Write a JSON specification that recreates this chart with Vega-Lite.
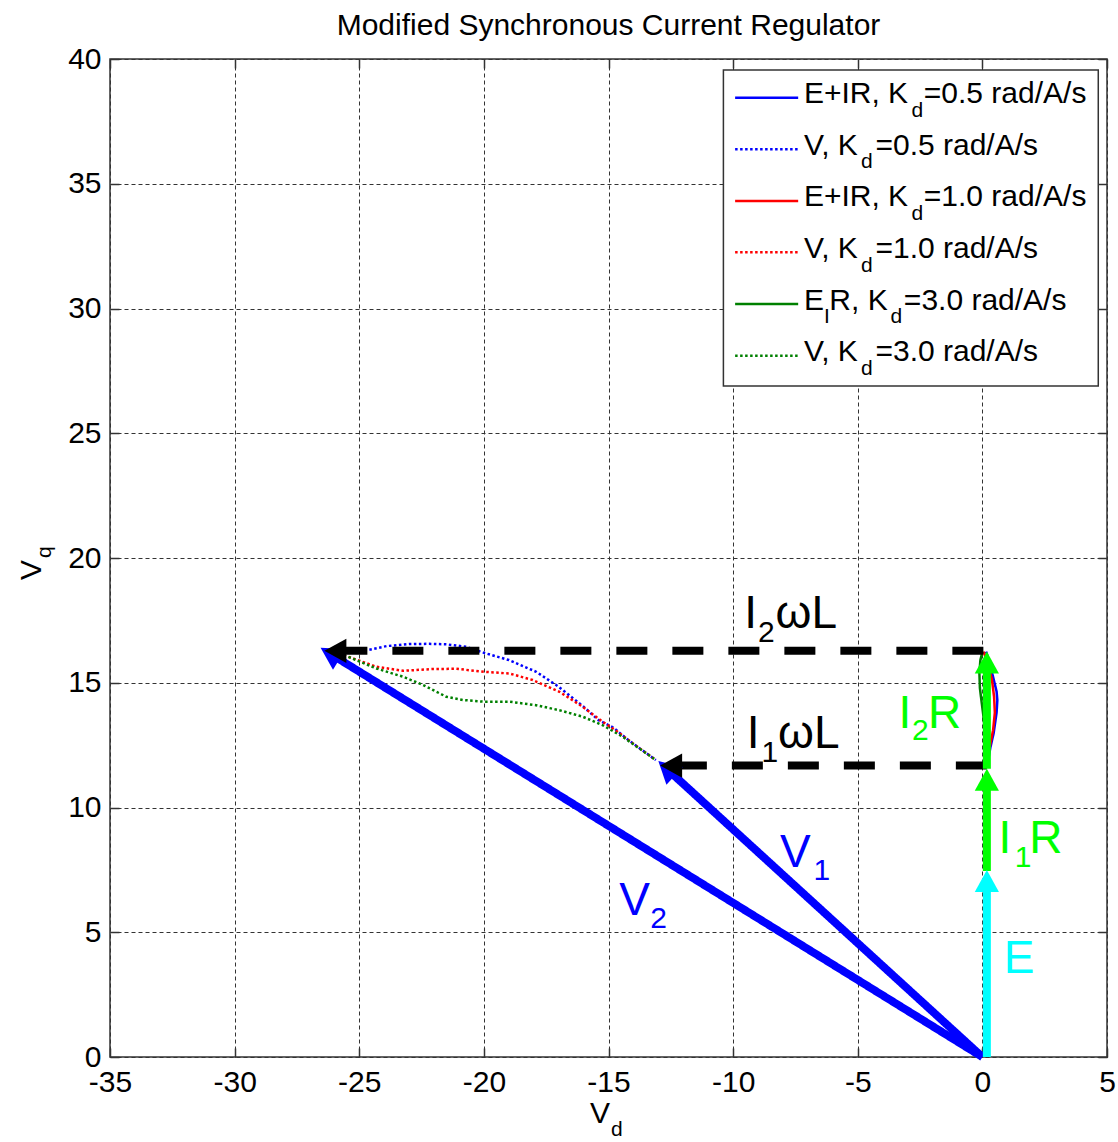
{
  "$schema": "https://vega.github.io/schema/vega-lite/v6.json",
  "width": 997,
  "height": 998,
  "autosize": {"type": "none"},
  "padding": {"left": 110, "top": 59, "right": 11, "bottom": 85},
  "background": "white",
  "config": {
    "view": {"stroke": "#333333", "strokeWidth": 1.5},
    "axis": {"domain": false, "labelFont": "Liberation Sans", "labelFontSize": 30, "labelColor": "#000000", "tickSize": -9, "tickColor": "#333333", "tickWidth": 1.5, "gridColor": "#333333", "gridDash": [4, 3], "gridWidth": 1, "gridOpacity": 1, "labelFlush": false, "labelOverlap": false}
  },
  "datasets": {
    "curves": [
      {"key": "E+IR, Kd=0.5", "i": 1, "x": 0.15, "y": 16.25},
      {"key": "E+IR, Kd=0.5", "i": 2, "x": 0.30, "y": 15.75},
      {"key": "E+IR, Kd=0.5", "i": 3, "x": 0.45, "y": 15.15},
      {"key": "E+IR, Kd=0.5", "i": 4, "x": 0.57, "y": 14.65},
      {"key": "E+IR, Kd=0.5", "i": 5, "x": 0.60, "y": 14.3},
      {"key": "E+IR, Kd=0.5", "i": 6, "x": 0.57, "y": 13.8},
      {"key": "E+IR, Kd=0.5", "i": 7, "x": 0.45, "y": 12.97},
      {"key": "E+IR, Kd=0.5", "i": 8, "x": 0.32, "y": 12.4},
      {"key": "E+IR, Kd=0.5", "i": 9, "x": 0.20, "y": 11.7},
      {"key": "E+IR, Kd=1.0", "i": 1, "x": 0.05, "y": 16.25},
      {"key": "E+IR, Kd=1.0", "i": 2, "x": 0.20, "y": 15.8},
      {"key": "E+IR, Kd=1.0", "i": 3, "x": 0.38, "y": 15.15},
      {"key": "E+IR, Kd=1.0", "i": 4, "x": 0.47, "y": 14.44},
      {"key": "E+IR, Kd=1.0", "i": 5, "x": 0.50, "y": 13.8},
      {"key": "E+IR, Kd=1.0", "i": 6, "x": 0.43, "y": 13.1},
      {"key": "E+IR, Kd=1.0", "i": 7, "x": 0.33, "y": 12.6},
      {"key": "E+IR, Kd=1.0", "i": 8, "x": 0.20, "y": 11.9},
      {"key": "E+IR, Kd=1.0", "i": 9, "x": 0.15, "y": 11.65},
      {"key": "E+IR, Kd=3.0", "i": 1, "x": 0.0, "y": 16.25},
      {"key": "E+IR, Kd=3.0", "i": 2, "x": -0.08, "y": 15.9},
      {"key": "E+IR, Kd=3.0", "i": 3, "x": -0.12, "y": 15.4},
      {"key": "E+IR, Kd=3.0", "i": 4, "x": -0.10, "y": 14.8},
      {"key": "E+IR, Kd=3.0", "i": 5, "x": -0.04, "y": 14.3},
      {"key": "E+IR, Kd=3.0", "i": 6, "x": 0.05, "y": 13.6},
      {"key": "E+IR, Kd=3.0", "i": 7, "x": 0.12, "y": 12.8},
      {"key": "E+IR, Kd=3.0", "i": 8, "x": 0.15, "y": 11.7},
      {"key": "V, Kd=0.5", "i": 1, "x": -26.4, "y": 16.3},
      {"key": "V, Kd=0.5", "i": 2, "x": -25.5, "y": 16.3},
      {"key": "V, Kd=0.5", "i": 3, "x": -24.6, "y": 16.32},
      {"key": "V, Kd=0.5", "i": 4, "x": -23.9, "y": 16.47},
      {"key": "V, Kd=0.5", "i": 5, "x": -23.0, "y": 16.55},
      {"key": "V, Kd=0.5", "i": 6, "x": -22.2, "y": 16.56},
      {"key": "V, Kd=0.5", "i": 7, "x": -21.5, "y": 16.54},
      {"key": "V, Kd=0.5", "i": 8, "x": -20.7, "y": 16.44},
      {"key": "V, Kd=0.5", "i": 9, "x": -20.0, "y": 16.2},
      {"key": "V, Kd=0.5", "i": 10, "x": -19.0, "y": 15.91},
      {"key": "V, Kd=0.5", "i": 11, "x": -17.9, "y": 15.44},
      {"key": "V, Kd=0.5", "i": 12, "x": -17.0, "y": 14.84},
      {"key": "V, Kd=0.5", "i": 13, "x": -16.0, "y": 14.04},
      {"key": "V, Kd=0.5", "i": 14, "x": -15.4, "y": 13.5},
      {"key": "V, Kd=0.5", "i": 15, "x": -14.8, "y": 13.2},
      {"key": "V, Kd=0.5", "i": 16, "x": -14.2, "y": 12.7},
      {"key": "V, Kd=0.5", "i": 17, "x": -13.1, "y": 11.9},
      {"key": "V, Kd=1.0", "i": 1, "x": -26.4, "y": 16.3},
      {"key": "V, Kd=1.0", "i": 2, "x": -25.44, "y": 16.04},
      {"key": "V, Kd=1.0", "i": 3, "x": -24.31, "y": 15.64},
      {"key": "V, Kd=1.0", "i": 4, "x": -23.24, "y": 15.48},
      {"key": "V, Kd=1.0", "i": 5, "x": -22.04, "y": 15.55},
      {"key": "V, Kd=1.0", "i": 6, "x": -21.11, "y": 15.56},
      {"key": "V, Kd=1.0", "i": 7, "x": -20.0, "y": 15.44},
      {"key": "V, Kd=1.0", "i": 8, "x": -18.97, "y": 15.37},
      {"key": "V, Kd=1.0", "i": 9, "x": -18.04, "y": 15.11},
      {"key": "V, Kd=1.0", "i": 10, "x": -16.97, "y": 14.64},
      {"key": "V, Kd=1.0", "i": 11, "x": -16.04, "y": 14.04},
      {"key": "V, Kd=1.0", "i": 12, "x": -15.24, "y": 13.44},
      {"key": "V, Kd=1.0", "i": 13, "x": -14.64, "y": 13.04},
      {"key": "V, Kd=1.0", "i": 14, "x": -14.0, "y": 12.55},
      {"key": "V, Kd=1.0", "i": 15, "x": -13.1, "y": 11.9},
      {"key": "V, Kd=3.0", "i": 1, "x": -26.4, "y": 16.3},
      {"key": "V, Kd=3.0", "i": 2, "x": -25.44, "y": 16.04},
      {"key": "V, Kd=3.0", "i": 3, "x": -24.31, "y": 15.57},
      {"key": "V, Kd=3.0", "i": 4, "x": -23.24, "y": 15.24},
      {"key": "V, Kd=3.0", "i": 5, "x": -22.44, "y": 14.91},
      {"key": "V, Kd=3.0", "i": 6, "x": -21.51, "y": 14.44},
      {"key": "V, Kd=3.0", "i": 7, "x": -20.84, "y": 14.31},
      {"key": "V, Kd=3.0", "i": 8, "x": -20.0, "y": 14.24},
      {"key": "V, Kd=3.0", "i": 9, "x": -18.97, "y": 14.24},
      {"key": "V, Kd=3.0", "i": 10, "x": -17.91, "y": 14.10},
      {"key": "V, Kd=3.0", "i": 11, "x": -16.97, "y": 13.90},
      {"key": "V, Kd=3.0", "i": 12, "x": -16.04, "y": 13.64},
      {"key": "V, Kd=3.0", "i": 13, "x": -15.24, "y": 13.30},
      {"key": "V, Kd=3.0", "i": 14, "x": -14.44, "y": 12.84},
      {"key": "V, Kd=3.0", "i": 15, "x": -13.77, "y": 12.37},
      {"key": "V, Kd=3.0", "i": 16, "x": -13.1, "y": 11.9}
    ],
    "arrows": [
      {"arrow": "V2", "key": "V", "x0": 0, "y0": 0, "x1": -26.14, "y1": 16.15, "xt": -26.55, "yt": 16.40},
      {"arrow": "V1", "key": "V", "x0": 0, "y0": 0, "x1": -12.645, "y1": 11.536, "xt": -13.0, "yt": 11.86},
      {"arrow": "I2wL", "key": "wL", "x0": 0.04, "y0": 16.28, "x1": -25.92, "y1": 16.28, "xt": -26.40, "yt": 16.28},
      {"arrow": "I1wL", "key": "wL", "x0": 0.18, "y0": 11.68, "x1": -12.45, "y1": 11.68, "xt": -12.93, "yt": 11.68},
      {"arrow": "E", "key": "E", "x0": 0.18, "y0": 0, "x1": 0.18, "y1": 7.01, "xt": 0.18, "yt": 7.49},
      {"arrow": "I1R", "key": "IR", "x0": 0.18, "y0": 7.45, "x1": 0.18, "y1": 11.07, "xt": 0.18, "yt": 11.55},
      {"arrow": "I2R", "key": "IR", "x0": 0.18, "y0": 11.55, "x1": 0.18, "y1": 15.77, "xt": 0.18, "yt": 16.25}
    ],
    "legendbox": [
      {"x1": -10.39, "x2": 4.65, "y1": 26.89, "y2": 39.56}
    ],
    "legendlines": [
      {"key": "E+IR, Kd=0.5", "x1": -9.92, "x2": -7.39, "y": 38.45},
      {"key": "V, Kd=0.5", "x1": -9.92, "x2": -7.39, "y": 36.38},
      {"key": "E+IR, Kd=1.0", "x1": -9.92, "x2": -7.39, "y": 34.31},
      {"key": "V, Kd=1.0", "x1": -9.92, "x2": -7.39, "y": 32.25},
      {"key": "E+IR, Kd=3.0", "x1": -9.92, "x2": -7.39, "y": 30.18},
      {"key": "V, Kd=3.0", "x1": -9.92, "x2": -7.39, "y": 28.11}
    ],
    "labels": [
      {"t": "I", "x": -9.55, "y": 17.18, "role": "big", "key": "wL"},
      {"t": "2", "x": -9.0, "y": 16.65, "role": "bigsub", "key": "wL"},
      {"t": "ωL", "x": -8.3, "y": 17.18, "role": "big", "key": "wL"},
      {"t": "I", "x": -9.45, "y": 12.37, "role": "big", "key": "wL"},
      {"t": "1", "x": -8.86, "y": 11.84, "role": "bigsub", "key": "wL"},
      {"t": "ωL", "x": -8.2, "y": 12.37, "role": "big", "key": "wL"},
      {"t": "I", "x": -3.37, "y": 13.17, "role": "big", "key": "IR"},
      {"t": "2", "x": -2.82, "y": 12.71, "role": "bigsub", "key": "IR"},
      {"t": "R", "x": -2.18, "y": 13.17, "role": "big", "key": "IR"},
      {"t": "I", "x": 0.65, "y": 8.16, "role": "big", "key": "IR"},
      {"t": "1", "x": 1.30, "y": 7.63, "role": "bigsub", "key": "IR"},
      {"t": "R", "x": 1.88, "y": 8.16, "role": "big", "key": "IR"},
      {"t": "E", "x": 0.86, "y": 3.38, "role": "big", "key": "E"},
      {"t": "V", "x": -8.12, "y": 7.63, "role": "big", "key": "V"},
      {"t": "1", "x": -6.78, "y": 7.09, "role": "bigsub", "key": "V"},
      {"t": "V", "x": -14.57, "y": 5.69, "role": "big", "key": "V"},
      {"t": "2", "x": -13.32, "y": 5.16, "role": "bigsub", "key": "V"},
      {"t": "E+IR, K", "x": -7.16, "y": 38.22, "role": "leg", "key": "txt"},
      {"t": "d", "x": -2.84, "y": 37.69, "role": "legsub", "key": "txt"},
      {"t": "=0.5 rad/A/s", "x": -2.35, "y": 38.22, "role": "leg", "key": "txt"},
      {"t": "V, K", "x": -7.16, "y": 36.15, "role": "leg", "key": "txt"},
      {"t": "d", "x": -4.87, "y": 35.62, "role": "legsub", "key": "txt"},
      {"t": "=0.5 rad/A/s", "x": -4.29, "y": 36.15, "role": "leg", "key": "txt"},
      {"t": "E+IR, K", "x": -7.16, "y": 34.09, "role": "leg", "key": "txt"},
      {"t": "d", "x": -2.84, "y": 33.55, "role": "legsub", "key": "txt"},
      {"t": "=1.0 rad/A/s", "x": -2.35, "y": 34.09, "role": "leg", "key": "txt"},
      {"t": "V, K", "x": -7.16, "y": 32.02, "role": "leg", "key": "txt"},
      {"t": "d", "x": -4.87, "y": 31.48, "role": "legsub", "key": "txt"},
      {"t": "=1.0 rad/A/s", "x": -4.29, "y": 32.02, "role": "leg", "key": "txt"},
      {"t": "E", "x": -7.16, "y": 29.95, "role": "leg", "key": "txt"},
      {"t": "I", "x": -6.35, "y": 29.42, "role": "legsub", "key": "txt"},
      {"t": "R, K", "x": -6.14, "y": 29.95, "role": "leg", "key": "txt"},
      {"t": "d", "x": -3.69, "y": 29.42, "role": "legsub", "key": "txt"},
      {"t": "=3.0 rad/A/s", "x": -3.15, "y": 29.95, "role": "leg", "key": "txt"},
      {"t": "V, K", "x": -7.16, "y": 27.88, "role": "leg", "key": "txt"},
      {"t": "d", "x": -4.87, "y": 27.35, "role": "legsub", "key": "txt"},
      {"t": "=3.0 rad/A/s", "x": -4.29, "y": 27.88, "role": "leg", "key": "txt"},
      {"t": "V", "x": -15.74, "y": -2.645, "role": "ax", "key": "txt"},
      {"t": "d", "x": -14.90, "y": -3.17, "role": "axsub", "key": "txt"}
    ],
    "titletext": [
      {"t": "Modified Synchronous Current Regulator", "x": -15.0, "y": 40.96, "role": "ax", "key": "txt"}
    ],
    "ytitle": [
      {"t": "V", "x": -37.77, "y": 19.12, "role": "ax", "key": "txt"},
      {"t": "q", "x": -37.37, "y": 20.0, "role": "axsub", "key": "txt"}
    ]
  },
  "resolve": {"axis": {"x": "independent", "y": "independent"}},
  "layer": [
    {
      "layer": [
        {
          "data": {"name": "curves"},
          "mark": {"type": "line", "strokeWidth": 2.5, "strokeCap": "butt"},
          "encoding": {
            "x": {"field": "x", "type": "quantitative", "title": null, "scale": {"domain": [-35, 5], "nice": false, "zero": false},
                  "axis": {"orient": "bottom", "values": [-35, -30, -25, -20, -15, -10, -5, 0, 5], "grid": true, "labelPadding": 19,
                           "labelExpr": "datum.value < 0 ? '-' + abs(datum.value) + '\u00a0' : '' + datum.value"}},
            "y": {"field": "y", "type": "quantitative", "title": null, "scale": {"domain": [0, 40], "nice": false, "zero": false},
                  "axis": {"orient": "left", "values": [0, 5, 10, 15, 20, 25, 30, 35, 40], "grid": true, "labelPadding": 18}},
            "color": {"field": "key", "type": "nominal", "legend": null,
                      "scale": {"domain": ["E+IR, Kd=0.5", "V, Kd=0.5", "E+IR, Kd=1.0", "V, Kd=1.0", "E+IR, Kd=3.0", "V, Kd=3.0", "V", "wL", "E", "IR", "txt"],
                                "range": ["#0000ff", "#0000ff", "#ff0000", "#ff0000", "#008000", "#008000", "#0000ff", "#000000", "#00ffff", "#00ff00", "#000000"]}},
            "strokeDash": {"field": "key", "type": "nominal", "legend": null,
                      "scale": {"domain": ["E+IR, Kd=0.5", "V, Kd=0.5", "E+IR, Kd=1.0", "V, Kd=1.0", "E+IR, Kd=3.0", "V, Kd=3.0", "V", "wL", "E", "IR", "txt"],
                                "range": [[1, 0], [2.5, 2.5], [1, 0], [2.5, 2.5], [1, 0], [2.5, 2.5], [1, 0], [31, 25], [1, 0], [1, 0], [1, 0]]}},
            "order": {"field": "i", "type": "quantitative"}
          }
        },
        {
          "data": {"name": "arrows"},
          "mark": {"type": "rule", "strokeWidth": 8, "strokeCap": "butt"},
          "encoding": {
            "x": {"field": "x0", "type": "quantitative", "title": null, "scale": {"domain": [-35, 5], "nice": false, "zero": false}},
            "y": {"field": "y0", "type": "quantitative", "title": null, "scale": {"domain": [0, 40], "nice": false, "zero": false}},
            "x2": {"field": "x1"},
            "y2": {"field": "y1"},
            "color": {"field": "key", "type": "nominal", "legend": null,
                      "scale": {"domain": ["E+IR, Kd=0.5", "V, Kd=0.5", "E+IR, Kd=1.0", "V, Kd=1.0", "E+IR, Kd=3.0", "V, Kd=3.0", "V", "wL", "E", "IR", "txt"],
                                "range": ["#0000ff", "#0000ff", "#ff0000", "#ff0000", "#008000", "#008000", "#0000ff", "#000000", "#00ffff", "#00ff00", "#000000"]}},
            "strokeDash": {"field": "key", "type": "nominal", "legend": null,
                      "scale": {"domain": ["E+IR, Kd=0.5", "V, Kd=0.5", "E+IR, Kd=1.0", "V, Kd=1.0", "E+IR, Kd=3.0", "V, Kd=3.0", "V", "wL", "E", "IR", "txt"],
                                "range": [[1, 0], [2.5, 2.5], [1, 0], [2.5, 2.5], [1, 0], [2.5, 2.5], [1, 0], [31, 25], [1, 0], [1, 0], [1, 0]]}}
          }
        },
        {
          "data": {"name": "arrows"},
          "mark": {"type": "point", "shape": "M0,0L-0.55,1L0.55,1Z", "filled": true, "size": 1936, "opacity": 1, "strokeWidth": 0},
          "encoding": {
            "x": {"field": "xt", "type": "quantitative", "title": null, "scale": {"domain": [-35, 5], "nice": false, "zero": false}},
            "y": {"field": "yt", "type": "quantitative", "title": null, "scale": {"domain": [0, 40], "nice": false, "zero": false}},
            "color": {"field": "key", "type": "nominal", "legend": null,
                      "scale": {"domain": ["E+IR, Kd=0.5", "V, Kd=0.5", "E+IR, Kd=1.0", "V, Kd=1.0", "E+IR, Kd=3.0", "V, Kd=3.0", "V", "wL", "E", "IR", "txt"],
                                "range": ["#0000ff", "#0000ff", "#ff0000", "#ff0000", "#008000", "#008000", "#0000ff", "#000000", "#00ffff", "#00ff00", "#000000"]}},
            "angle": {"field": "arrow", "type": "nominal", "legend": null,
                      "scale": {"type": "ordinal", "domain": ["V2", "V1", "I2wL", "I1wL", "E", "I1R", "I2R"], "range": [301.7, 312.4, 270, 270, 0, 0, 0]}}
          }
        },
        {
          "data": {"name": "legendbox"},
          "mark": {"type": "rect", "fill": "#ffffff", "stroke": "#333333", "strokeWidth": 1.5},
          "encoding": {
            "x": {"field": "x1", "type": "quantitative", "title": null, "scale": {"domain": [-35, 5], "nice": false, "zero": false}},
            "x2": {"field": "x2"},
            "y": {"field": "y1", "type": "quantitative", "title": null, "scale": {"domain": [0, 40], "nice": false, "zero": false}},
            "y2": {"field": "y2"}
          }
        },
        {
          "data": {"name": "legendlines"},
          "mark": {"type": "rule", "strokeWidth": 2.5, "strokeCap": "butt"},
          "encoding": {
            "x": {"field": "x1", "type": "quantitative", "title": null, "scale": {"domain": [-35, 5], "nice": false, "zero": false}},
            "x2": {"field": "x2"},
            "y": {"field": "y", "type": "quantitative", "title": null, "scale": {"domain": [0, 40], "nice": false, "zero": false}},
            "color": {"field": "key", "type": "nominal", "legend": null,
                      "scale": {"domain": ["E+IR, Kd=0.5", "V, Kd=0.5", "E+IR, Kd=1.0", "V, Kd=1.0", "E+IR, Kd=3.0", "V, Kd=3.0", "V", "wL", "E", "IR", "txt"],
                                "range": ["#0000ff", "#0000ff", "#ff0000", "#ff0000", "#008000", "#008000", "#0000ff", "#000000", "#00ffff", "#00ff00", "#000000"]}},
            "strokeDash": {"field": "key", "type": "nominal", "legend": null,
                      "scale": {"domain": ["E+IR, Kd=0.5", "V, Kd=0.5", "E+IR, Kd=1.0", "V, Kd=1.0", "E+IR, Kd=3.0", "V, Kd=3.0", "V", "wL", "E", "IR", "txt"],
                                "range": [[1, 0], [2.5, 2.5], [1, 0], [2.5, 2.5], [1, 0], [2.5, 2.5], [1, 0], [31, 25], [1, 0], [1, 0], [1, 0]]}}
          }
        },
        {
          "data": {"name": "labels"},
          "mark": {"type": "text", "font": "Liberation Sans", "align": "left", "baseline": "alphabetic"},
          "encoding": {
            "x": {"field": "x", "type": "quantitative", "title": null, "scale": {"domain": [-35, 5], "nice": false, "zero": false}},
            "y": {"field": "y", "type": "quantitative", "title": null, "scale": {"domain": [0, 40], "nice": false, "zero": false}},
            "text": {"field": "t", "type": "nominal"},
            "size": {"field": "role", "type": "nominal", "legend": null,
                     "scale": {"type": "ordinal", "domain": ["big", "bigsub", "leg", "legsub", "ax", "axsub"], "range": [46, 30, 30, 21, 30, 21]}},
            "color": {"field": "key", "type": "nominal", "legend": null,
                      "scale": {"domain": ["E+IR, Kd=0.5", "V, Kd=0.5", "E+IR, Kd=1.0", "V, Kd=1.0", "E+IR, Kd=3.0", "V, Kd=3.0", "V", "wL", "E", "IR", "txt"],
                                "range": ["#0000ff", "#0000ff", "#ff0000", "#ff0000", "#008000", "#008000", "#0000ff", "#000000", "#00ffff", "#00ff00", "#000000"]}}
          }
        },
        {
          "data": {"name": "titletext"},
          "mark": {"type": "text", "font": "Liberation Sans", "align": "center", "baseline": "alphabetic"},
          "encoding": {
            "x": {"field": "x", "type": "quantitative", "title": null, "scale": {"domain": [-35, 5], "nice": false, "zero": false}},
            "y": {"field": "y", "type": "quantitative", "title": null, "scale": {"domain": [0, 40], "nice": false, "zero": false}},
            "text": {"field": "t", "type": "nominal"},
            "size": {"field": "role", "type": "nominal", "legend": null,
                     "scale": {"type": "ordinal", "domain": ["big", "bigsub", "leg", "legsub", "ax", "axsub"], "range": [46, 30, 30, 21, 30, 21]}},
            "color": {"field": "key", "type": "nominal", "legend": null,
                      "scale": {"domain": ["E+IR, Kd=0.5", "V, Kd=0.5", "E+IR, Kd=1.0", "V, Kd=1.0", "E+IR, Kd=3.0", "V, Kd=3.0", "V", "wL", "E", "IR", "txt"],
                                "range": ["#0000ff", "#0000ff", "#ff0000", "#ff0000", "#008000", "#008000", "#0000ff", "#000000", "#00ffff", "#00ff00", "#000000"]}}
          }
        },
        {
          "data": {"name": "ytitle"},
          "mark": {"type": "text", "font": "Liberation Sans", "align": "left", "baseline": "alphabetic", "angle": 270},
          "encoding": {
            "x": {"field": "x", "type": "quantitative", "title": null, "scale": {"domain": [-35, 5], "nice": false, "zero": false}},
            "y": {"field": "y", "type": "quantitative", "title": null, "scale": {"domain": [0, 40], "nice": false, "zero": false}},
            "text": {"field": "t", "type": "nominal"},
            "size": {"field": "role", "type": "nominal", "legend": null,
                     "scale": {"type": "ordinal", "domain": ["big", "bigsub", "leg", "legsub", "ax", "axsub"], "range": [46, 30, 30, 21, 30, 21]}},
            "color": {"field": "key", "type": "nominal", "legend": null,
                      "scale": {"domain": ["E+IR, Kd=0.5", "V, Kd=0.5", "E+IR, Kd=1.0", "V, Kd=1.0", "E+IR, Kd=3.0", "V, Kd=3.0", "V", "wL", "E", "IR", "txt"],
                                "range": ["#0000ff", "#0000ff", "#ff0000", "#ff0000", "#008000", "#008000", "#0000ff", "#000000", "#00ffff", "#00ff00", "#000000"]}}
          }
        }
      ]
    },
    {
      "data": {"name": "arrows"},
      "mark": {"type": "point", "opacity": 0},
      "encoding": {
        "x": {"field": "xt", "type": "quantitative", "title": null, "scale": {"domain": [-35, 5], "nice": false, "zero": false},
              "axis": {"orient": "top", "values": [-35, -30, -25, -20, -15, -10, -5, 0, 5], "labels": false, "grid": false}},
        "y": {"field": "yt", "type": "quantitative", "title": null, "scale": {"domain": [0, 40], "nice": false, "zero": false},
              "axis": {"orient": "right", "values": [0, 5, 10, 15, 20, 25, 30, 35, 40], "labels": false, "grid": false}}
      }
    }
  ]
}
